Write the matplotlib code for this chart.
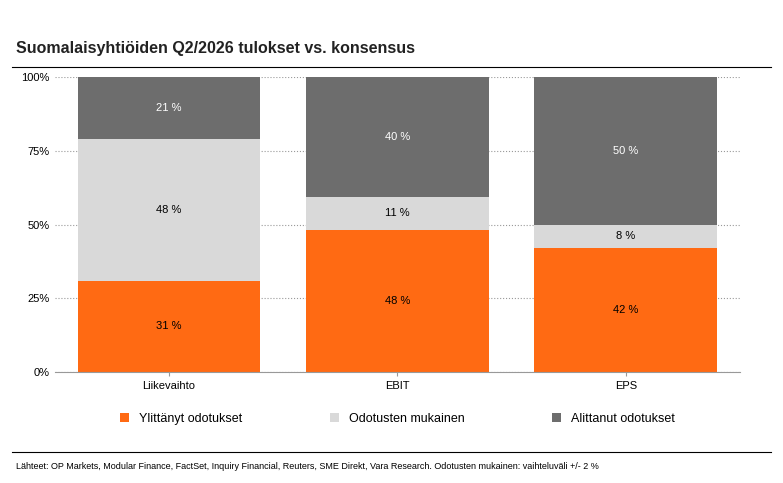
import matplotlib.pyplot as plt
import numpy as np

plt.rcParams['font.family'] = ['Liberation Sans', 'DejaVu Sans']

categories = ['Liikevaihto', 'EBIT', 'EPS']
series_names = ['Ylittänyt odotukset', 'Odotusten mukainen', 'Alittanut odotukset']
ylittanyt = [31.0, 48.3, 42.0]
mukainen = [48.0, 11.2, 8.0]
alittanut = [21.0, 40.5, 50.0]
labels = [['31 %', '48 %', '42 %'], ['48 %', '11 %', '8 %'], ['21 %', '40 %', '50 %']]
colors = ['#FF6A13', '#D9D9D9', '#6D6D6D']

fig = plt.figure(figsize=(7.83, 4.83), dpi=100)
ax = fig.add_axes([0.07, 0.23, 0.875, 0.61])

x = np.arange(len(categories))
bottom = np.zeros(len(categories))
for vals, lab, col, name in zip([ylittanyt, mukainen, alittanut], labels, colors, series_names):
    bars = ax.bar(x, vals, 0.8, bottom=bottom, color=col, label=name)
    for i, b in enumerate(bars):
        ax.text(b.get_x() + b.get_width() / 2, bottom[i] + vals[i] / 2, lab[i],
                ha='center', va='center', fontsize=8,
                color='white' if col == '#6D6D6D' else 'black')
    bottom += np.array(vals)

ax.set_xlim(-0.5, 2.5)
ax.set_ylim(0, 100)
ax.set_yticks([0, 25, 50, 75, 100])
ax.set_yticklabels(['0%', '25%', '50%', '75%', '100%'], fontsize=8)
ax.set_xticks(x)
ax.set_xticklabels(categories, fontsize=8)
ax.yaxis.grid(True, linestyle=':', color='#999999', linewidth=0.8)
ax.set_axisbelow(True)
for s in ['top', 'right', 'left']:
    ax.spines[s].set_visible(False)
ax.spines['bottom'].set_color('#999999')
ax.tick_params(axis='y', length=0)
ax.tick_params(axis='x', length=3, color='#999999')

ax.legend(loc='upper center', bbox_to_anchor=(0.5, -0.1), ncol=3, frameon=False,
          fontsize=9, handlelength=0.7, handleheight=0.7, columnspacing=7)

fig.text(0.02, 0.89, 'Suomalaisyhtiöiden Q2/2026 tulokset vs. konsensus', fontsize=11.5, weight='bold', color='#222222')
fig.add_artist(plt.Line2D([0.015, 0.985], [0.862, 0.862], color='black', linewidth=0.8))
fig.add_artist(plt.Line2D([0.015, 0.985], [0.065, 0.065], color='black', linewidth=0.8))
fig.text(0.02, 0.03, 'Lähteet: OP Markets, Modular Finance, FactSet, Inquiry Financial, Reuters, SME Direkt, Vara Research. '
         'Odotusten mukainen: vaihteluväli +/- 2 %', fontsize=6.5)

fig.savefig('out.png', dpi=100)
